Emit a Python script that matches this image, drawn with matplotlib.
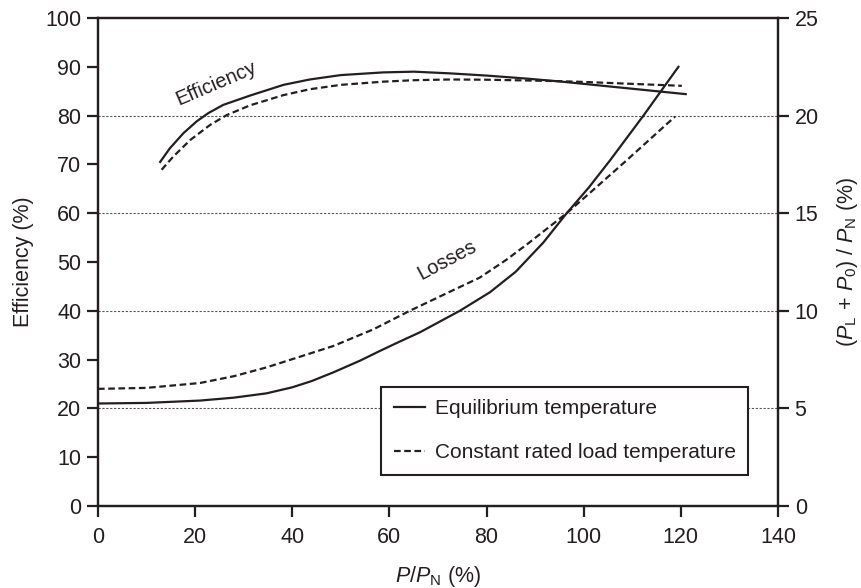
import matplotlib
matplotlib.use('Agg')
import matplotlib.pyplot as plt
from matplotlib.lines import Line2D

plt.rcParams['font.family'] = ['Liberation Sans', 'DejaVu Sans']
plt.rcParams['mathtext.fontset'] = 'custom'
plt.rcParams['mathtext.rm'] = 'Liberation Sans'
plt.rcParams['mathtext.it'] = 'Liberation Sans:italic'
plt.rcParams['font.size'] = 15.5

ink = '#231f20'

# efficiency curves (left axis, %)
eq_eff_x = [12.8, 14.8, 17.6, 20.3, 22.7, 25.8, 31.3, 38.2, 43.6, 50, 58.7, 65, 72.5, 80, 88, 95, 100, 110, 121]
eq_eff = [70.5, 73.3, 76.4, 78.8, 80.5, 82.2, 84.1, 86.3, 87.4, 88.3, 88.85, 89.0, 88.65, 88.2, 87.6, 87.0, 86.5, 85.5, 84.4]
cr_eff_x = [13.1, 15.5, 19.0, 23.1, 26.5, 31.3, 38.2, 43.6, 50, 58.7, 65, 72.5, 80, 88, 95, 100, 110, 120.2]
cr_eff = [68.9, 71.6, 75.0, 78.1, 80.1, 82.1, 84.2, 85.4, 86.3, 86.95, 87.25, 87.4, 87.35, 87.2, 87.05, 86.9, 86.5, 86.1]

# losses curves (right axis, %)
eq_loss_x = [0, 10, 21, 28, 34.7, 40, 44, 48.5, 54, 58.1, 61.5, 66.3, 74.5, 80.7, 86, 91.7, 96.5, 101, 105.4, 112.3, 119.5]
eq_loss = [5.25, 5.28, 5.4, 5.55, 5.77, 6.08, 6.4, 6.85, 7.45, 7.95, 8.35, 8.9, 10.0, 10.95, 12.0, 13.5, 15.0, 16.3, 17.7, 20.0, 22.5]
cr_loss_x = [0, 10, 21, 28, 34.7, 41, 48.5, 56.7, 64.2, 71.8, 78.6, 84, 88.3, 96.5, 102, 108.8, 118.8]
cr_loss = [6.0, 6.05, 6.3, 6.65, 7.1, 7.6, 8.2, 9.05, 10.0, 10.9, 11.7, 12.6, 13.4, 15.0, 16.2, 17.7, 19.95]

x_ticks = [0, 20, 40, 60, 80, 100, 120, 140]
left_ticks = [0, 10, 20, 30, 40, 50, 60, 70, 80, 90, 100]
right_ticks = [0, 5, 10, 15, 20, 25]
grid_levels = [20, 40, 60, 80]

fig, ax = plt.subplots(figsize=(8.61, 5.88), dpi=100)
fig.subplots_adjust(left=0.1138, right=0.9036, top=0.9694, bottom=0.1395)
ax2 = ax.twinx()

for g in grid_levels:
    ax.axhline(g, color='#555555', lw=0.8, ls=(0, (2, 1.5)), zorder=0)

dash = (0, (3, 1.6))
ax.plot(eq_eff_x, eq_eff, color=ink, lw=1.6)
ax.plot(cr_eff_x, cr_eff, color=ink, lw=1.6, ls=dash)
ax2.plot(eq_loss_x, eq_loss, color=ink, lw=1.6)
ax2.plot(cr_loss_x, cr_loss, color=ink, lw=1.6, ls=dash)

ax.text(24.3, 86.5, 'Efficiency', rotation=23, ha='center', va='center', color=ink, fontsize=14.5)
ax.text(71.8, 50.3, 'Losses', rotation=28, ha='center', va='center', color=ink, fontsize=14.5)

ax.set_xlim(0, 140)
ax.set_ylim(0, 100)
ax2.set_ylim(0, 25)
ax.set_xticks(x_ticks)
ax.set_yticks(left_ticks)
ax2.set_yticks(right_ticks)

for a in (ax, ax2):
    for s in a.spines.values():
        s.set_linewidth(1.6)
        s.set_color(ink)
    a.tick_params(direction='out', length=8, width=1.6, color=ink, labelcolor=ink, labelsize=15.5, pad=4)
ax.tick_params(axis='x', pad=7)

ax.set_ylabel('Efficiency (%)', color=ink, labelpad=8)
ax2.set_ylabel(r'$(\mathit{P}_{\mathrm{L}}\,+\,\mathit{P}_{0})\ /\ \mathit{P}_{\mathrm{N}}$ (%)', color=ink, labelpad=12)
ax.set_xlabel(r'$\mathit{P}/\mathit{P}_{\mathrm{N}}$ (%)', color=ink, labelpad=12)

handles = [Line2D([], [], color=ink, lw=1.6),
           Line2D([], [], color=ink, lw=1.6, ls=dash)]
leg = ax2.legend(handles, ['Equilibrium temperature', 'Constant rated load temperature'],
                 loc='lower right', bbox_to_anchor=(0.956, 0.0635), borderaxespad=0,
                 fancybox=False, framealpha=1, edgecolor=ink, handlelength=1.5,
                 handletextpad=0.45, labelspacing=1.2, borderpad=0.6, fontsize=15)
leg.get_frame().set_linewidth(1.5)
for t in leg.get_texts():
    t.set_color(ink)

fig.savefig('out.png', dpi=100)
